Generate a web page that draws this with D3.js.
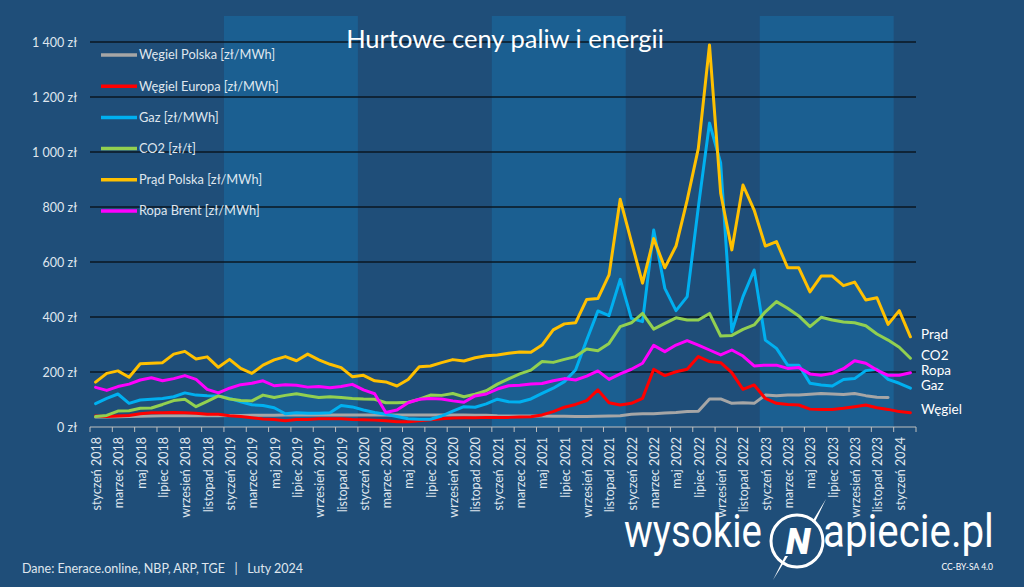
<!DOCTYPE html>
<html>
<head>
<meta charset="utf-8">
<script src="https://cdn.jsdelivr.net/npm/d3@7"></script>
<style>
  html, body { margin: 0; padding: 0; background: #1f4e79; }
  svg { display: block; font-family: Lato, "Open Sans", sans-serif; }
</style>
</head>
<body>
<div id="chart"></div>
<script>
// monthly values, styczeń 2018 .. luty 2024
const monthNames = ["styczeń", "luty", "marzec", "kwiecień", "maj", "czerwiec",
  "lipiec", "sierpień", "wrzesień", "październik", "listopad", "grudzień"];
const years = [2018, 2019, 2020, 2021, 2022, 2023, 2024];
const shadedYears = [2019, 2021, 2023];
const yTicks = [0, 200, 400, 600, 800, 1000, 1200, 1400];

const wegielPolska = [
  36, 36, 37, 38, 39, 40, 41, 41, 41, 41, 41, 41,
  42, 42, 43, 43, 43, 44, 44, 44, 44, 44, 44, 44,
  44, 44, 44, 44, 44, 44, 44, 44, 44, 44, 43, 43,
  41, 40, 40, 40, 40, 39, 39, 38, 38, 39, 40, 41,
  46, 48, 48, 51, 53, 56, 57, 102, 102, 86, 88, 86,
  116, 114, 116, 116, 119, 122, 120, 118, 122, 114, 108, 107];
const wegielEuropa = [
  40, 38, 40, 42, 48, 52, 52, 53, 52, 50, 46, 46,
  41, 38, 34, 29, 27, 23, 27, 27, 30, 30, 30, 27,
  26, 25, 23, 19, 19, 23, 26, 30, 33, 34, 34, 35,
  35, 35, 36, 37, 44, 56, 72, 82, 96, 135, 88, 80,
  86, 104, 210, 187, 201, 210, 256, 238, 234, 198, 137, 153,
  104, 86, 82, 80, 65, 64, 64, 68, 74, 80, 70, 64,
  56, 52];
const gaz = [
  85, 104, 120, 86, 98, 101, 104, 110, 124, 116, 114, 113,
  104, 92, 81, 78, 70, 48, 52, 50, 50, 52, 78, 73,
  62, 53, 46, 38, 30, 28, 28, 40, 58, 74, 72, 84,
  101, 92, 91, 102, 122, 141, 165, 207, 316, 422, 405, 537,
  395, 383, 716, 504, 423, 474, 800, 1105, 960, 347, 474, 571,
  316, 286, 225, 225, 159, 153, 149, 173, 176, 205, 210, 173,
  159, 141];
const co2 = [
  38, 42, 58, 59, 68, 69, 82, 96, 101, 74, 93, 113,
  102, 96, 95, 116, 107, 115, 121, 114, 107, 110, 107, 104,
  102, 101, 88, 88, 90, 101, 116, 115, 122, 110, 119, 132,
  156, 175, 193, 207, 238, 235, 246, 256, 284, 277, 304, 365,
  379, 413, 356, 377, 397, 389, 389, 413, 331, 333, 355, 371,
  419, 456, 432, 404, 365, 399, 389, 382, 379, 368, 338, 316,
  290, 250];
const prad = [
  163, 195, 204, 181, 230, 232, 234, 265, 275, 247, 255, 217,
  246, 213, 195, 225, 244, 256, 241, 265, 244, 228, 216, 183,
  188, 168, 164, 149, 173, 219, 222, 234, 245, 240, 252, 259,
  262, 268, 273, 272, 298, 353, 375, 379, 464, 467, 553, 828,
  674, 523, 685, 579, 658, 825, 1013, 1389, 850, 644, 880, 789,
  658, 674, 579, 579, 491, 549, 549, 514, 527, 462, 470, 373,
  423, 328];
const ropa = [
  144, 133, 147, 156, 171, 179, 168, 176, 187, 173, 137, 124,
  141, 154, 159, 168, 150, 154, 152, 145, 147, 143, 147, 155,
  135, 121, 53, 62, 88, 101, 104, 102, 95, 90, 113, 120,
  138, 150, 152, 156, 158, 168, 176, 171, 185, 204, 173, 193,
  210, 232, 297, 274, 298, 314, 298, 280, 262, 280, 258, 222,
  225, 225, 213, 216, 193, 188, 195, 212, 241, 232, 207, 188,
  188, 197];

const seriesNames = ["Węgiel Polska [zł/MWh]", "Węgiel Europa [zł/MWh]", "Gaz [zł/MWh]",
  "CO2 [zł/t]", "Prąd Polska [zł/MWh]", "Ropa Brent [zł/MWh]"];
const seriesShort = [null, "Węgiel", "Gaz", "CO2", "Prąd", "Ropa"];
const seriesColors = ["#a6a6a6", "#ff0000", "#00b0f0", "#92d050", "#ffc000", "#ff00ff"];
const seriesValues = [wegielPolska, wegielEuropa, gaz, co2, prad, ropa];

// category labels "styczeń 2018", "luty 2018", ...
const categories = [];
years.forEach(yr => monthNames.forEach(m => categories.push(`${m} ${yr}`)));
categories.length = prad.length;

const width = 1024, height = 587;
const margin = {top: 16, left: 90, right: 108, bottom: 160};
const textColor = "#dfe6ee";

const svg = d3.select("#chart").append("svg")
  .attr("width", width)
  .attr("height", height);

svg.append("rect").attr("width", width).attr("height", height).attr("fill", "#1f4e79");

const x = d3.scaleBand()
  .domain(categories)
  .range([margin.left, width - margin.right])
  .padding(0);

const y = d3.scaleLinear()
  .domain([0, 1400])
  .range([427, 42]);

const xc = c => x(c) + x.bandwidth() / 2;

// shaded year bands
svg.append("g")
  .selectAll("rect")
  .data(shadedYears)
  .join("rect")
    .attr("x", d => x(`styczeń ${d}`))
    .attr("y", margin.top)
    .attr("width", x.bandwidth() * 12)
    .attr("height", y(0) - margin.top)
    .attr("fill", "#1b5f91");

// gridlines
svg.append("g")
  .selectAll("line")
  .data(yTicks.filter(d => d > 0))
  .join("line")
    .attr("x1", margin.left)
    .attr("x2", width - margin.right)
    .attr("y1", d => y(d))
    .attr("y2", d => y(d))
    .attr("stroke", "#0b1722")
    .attr("stroke-width", 1.5);

// y axis labels
const fmt = d => d3.format(",")(d).replace(/,/g, " ") + " zł";
svg.append("g")
  .attr("transform", `translate(${margin.left},0)`)
  .call(d3.axisLeft(y).tickValues(yTicks).tickFormat(fmt).tickSize(0).tickPadding(13))
  .call(g => g.select(".domain").remove())
  .call(g => g.selectAll("text")
    .attr("fill", textColor)
    .attr("font-family", "Lato, sans-serif")
    .attr("font-size", 12.5));

// x axis
const xAxis = svg.append("g")
  .attr("transform", `translate(0,${y(0)})`);

xAxis.append("line")
  .attr("x1", margin.left)
  .attr("x2", width - margin.right)
  .attr("stroke", "#bfbfbf")
  .attr("stroke-width", 1.2);

const tickPos = categories.filter((c, i) => i % 2 === 0).map(c => x(c)).concat([width - margin.right]);
xAxis.selectAll(".tick-mark")
  .data(tickPos)
  .join("line")
    .attr("class", "tick-mark")
    .attr("x1", d => d).attr("x2", d => d)
    .attr("y1", 0).attr("y2", 5)
    .attr("stroke", "#bfbfbf");

xAxis.selectAll(".tick-label")
  .data(categories.filter((c, i) => i % 2 === 0))
  .join("text")
    .attr("class", "tick-label")
    .attr("transform", d => `translate(${xc(d) + 1},10) rotate(-90)`)
    .attr("text-anchor", "end")
    .attr("dy", "0.35em")
    .attr("fill", textColor)
    .attr("font-size", 12.5)
    .text(d => d);

// lines
const line = d3.line()
  .x((d, i) => xc(categories[i]))
  .y(d => y(d));

svg.append("g")
  .selectAll("path")
  .data(seriesValues)
  .join("path")
    .attr("d", d => line(d))
    .attr("fill", "none")
    .attr("stroke", (d, i) => seriesColors[i])
    .attr("stroke-width", 3)
    .attr("stroke-linejoin", "round")
    .attr("stroke-linecap", "round");

// end labels
const endLabels = seriesValues.map((v, i) => ({name: seriesShort[i], value: v[v.length - 1]}))
  .filter(d => d.name);
svg.append("g")
  .selectAll("text")
  .data(endLabels)
  .join("text")
    .attr("x", 921)
    .attr("y", d => y(d.value) - 3)
    .attr("dy", "0.35em")
    .attr("fill", "#ffffff")
    .attr("font-size", 13.5)
    .text(d => d.name);

// legend
const legend = svg.append("g")
  .selectAll("g")
  .data(seriesNames)
  .join("g")
    .attr("transform", (d, i) => `translate(101,${55 + i * 31.2})`);

legend.append("line")
  .attr("x1", 0).attr("x2", 36)
  .attr("stroke", (d, i) => seriesColors[i])
  .attr("stroke-width", 3.5);

legend.append("text")
  .attr("x", 38)
  .attr("dy", "0.35em")
  .attr("fill", textColor)
  .attr("font-size", 12.8)
  .text(d => d);

// title
svg.append("text")
  .attr("x", 505)
  .attr("y", 48)
  .attr("text-anchor", "middle")
  .attr("fill", "#ffffff")
  .attr("font-size", 25.5)
  .text("Hurtowe ceny paliw i energii");

// source
svg.append("text")
  .attr("x", 22)
  .attr("y", 573)
  .attr("fill", textColor)
  .attr("font-size", 12.5)
  .attr("xml:space", "preserve")
  .text("Dane: Enerace.online, NBP, ARP, TGE   |   Luty 2024");

// logo, words squeezed horizontally to the logo's narrow lettering
const logo = svg.append("g").attr("fill", "#ffffff");
const logoWord = (txt, x0, w) => {
  const t = logo.append("text")
    .attr("font-family", "Roboto, sans-serif")
    .attr("font-size", 46)
    .text(txt);
  const k = w / t.node().getComputedTextLength();
  t.attr("transform", `translate(${x0},547) scale(${k},1)`);
};
logoWord("wysokie", 624, 138);
logoWord("apiecie.pl", 823, 171);

logo.append("circle")
  .attr("cx", 797).attr("cy", 541).attr("r", 26)
  .attr("fill", "none")
  .attr("stroke", "#ffffff")
  .attr("stroke-width", 3);
logo.append("text")
  .attr("x", 798).attr("y", 554)
  .attr("text-anchor", "middle")
  .attr("font-family", "Roboto, sans-serif")
  .attr("font-weight", 900)
  .attr("font-style", "italic")
  .attr("font-size", 36)
  .text("N");
logo.append("path")
  .attr("d", "M826,499 L815,522 L812,522 Z M773,580 L785,556 L788,556 Z");
logo.append("text")
  .attr("x", 993).attr("y", 570)
  .attr("text-anchor", "end")
  .attr("font-size", 8.5)
  .text("CC-BY-SA 4.0");
</script>
</body>
</html>
